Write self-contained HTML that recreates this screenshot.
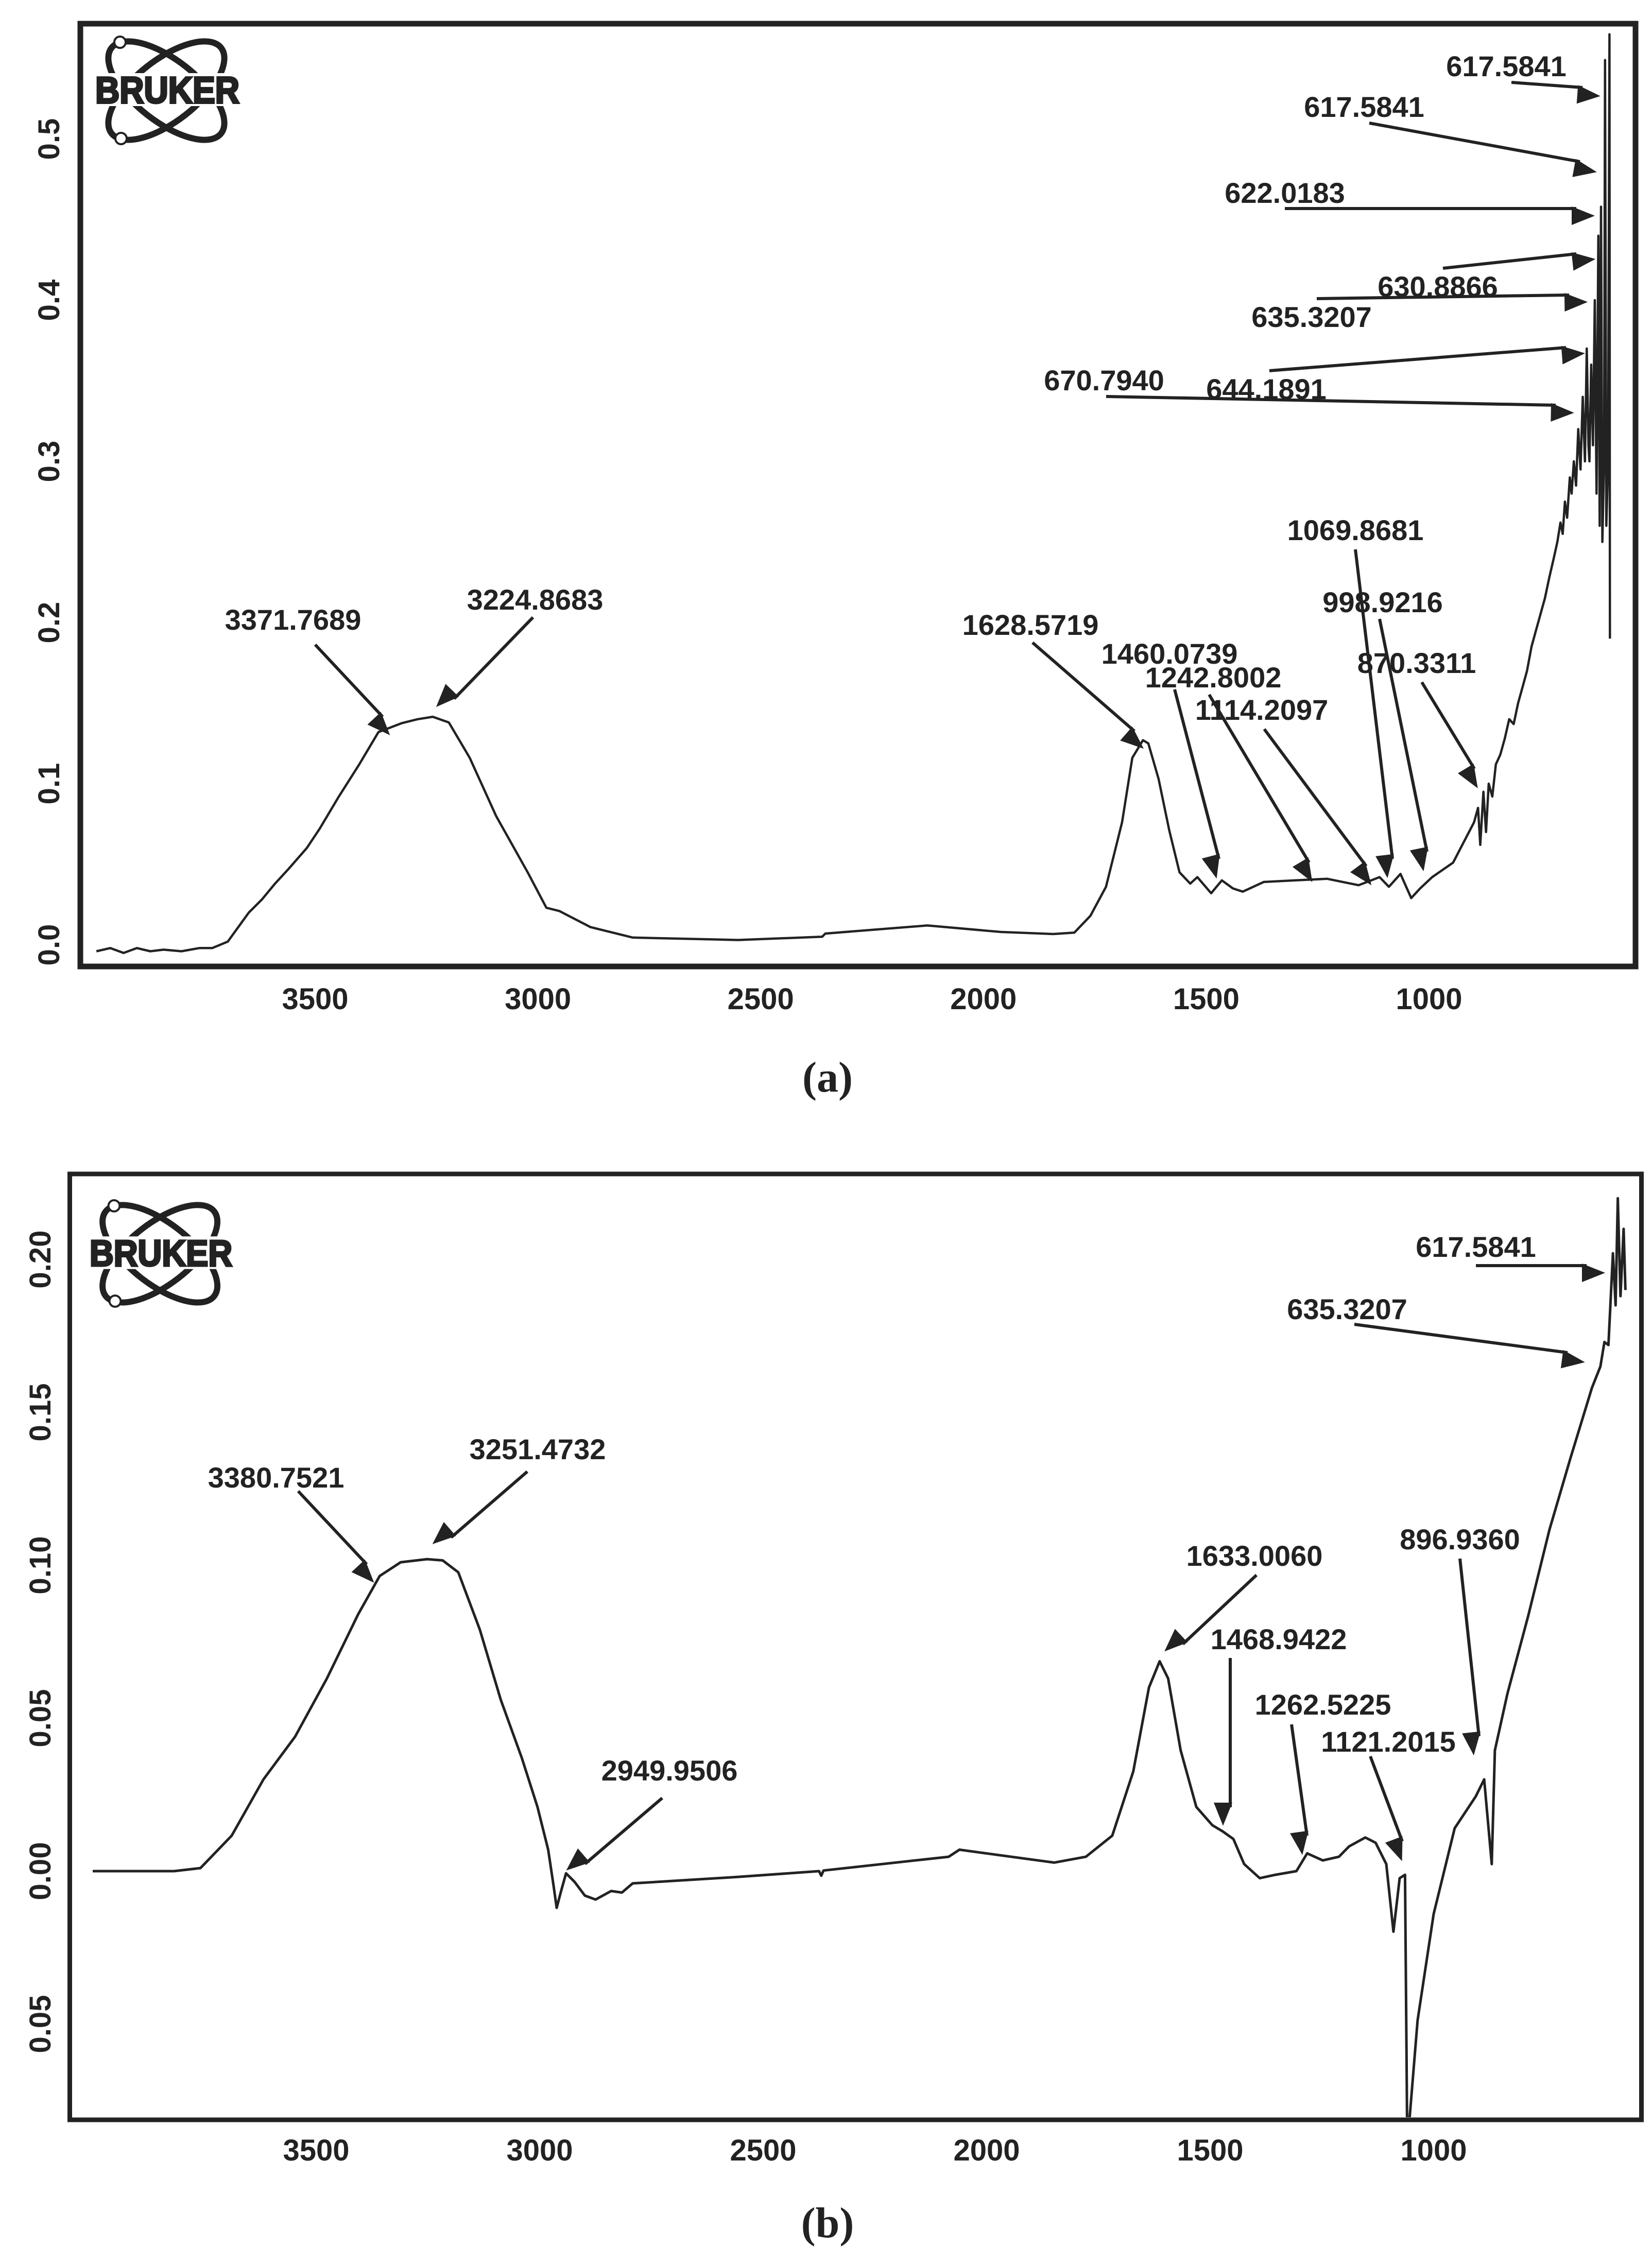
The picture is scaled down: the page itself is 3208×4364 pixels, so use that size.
<!DOCTYPE html>
<html><head><meta charset="utf-8"><style>
html,body{margin:0;padding:0;background:#fff;}
svg{display:block;}
text{font-family:"Liberation Sans",Arial,sans-serif;font-weight:bold;fill:#222;}
.cap{font-family:"Liberation Serif","Times New Roman",serif;font-size:84px;}
</style></head><body>
<svg id="chart" width="3208" height="4364" viewBox="0 0 3208 4364" xmlns="http://www.w3.org/2000/svg">
<defs>
<marker id="ah" markerWidth="10" markerHeight="8" refX="9" refY="4" orient="auto" markerUnits="userSpaceOnUse" viewBox="0 0 10 8" style="overflow:visible">
<path d="M0,0 L10,4 L0,8 Z" fill="#222" transform="scale(4.5)"/>
</marker>
<clipPath id="clipA"><rect x="162" y="52" width="3009" height="1819"/></clipPath>
<clipPath id="clipB"><rect x="140" y="2285" width="3043" height="1827"/></clipPath>
</defs>
<g id="gA"></g>
<g id="gB"></g>
</svg>
<script>
// ---------- data panel (a) ----------
const xTicksA = [3500, 3000, 2500, 2000, 1500, 1000];
const yTicksA = [0.0, 0.1, 0.2, 0.3, 0.4, 0.5];
const yTickLabelsA = ["0.0", "0.1", "0.2", "0.3", "0.4", "0.5"];
const waveA = [3991,3960,3930,3900,3870,3840,3800,3760,3731,3696,3649,3620,3590,3560,3519,3490,3448,3401,3358,3306,3270,3236,3200,3153,3094,3023,2981,2952,2882,2787,2551,2362,2355,2126,1961,1843,1796,1760,1725,1689,1666,1642,1630,1607,1583,1560,1536,1520,1489,1465,1440,1418,1371,1300,1229,1158,1111,1090,1064,1040,1020,993,946,899,890,885,878,872,866,858,850,840,830,820,810,800,790,780,770,760,750,740,730,720,712,705,700,695,690,684,680,675,670,665,660,655,650,646,642,640,636,632,628,624,620,617,614,611,607,605,602,598,595,594];
const absA  = [-0.004,-0.002,-0.005,-0.002,-0.004,-0.003,-0.004,-0.002,-0.002,0.002,0.020,0.028,0.038,0.047,0.060,0.072,0.0915,0.112,0.132,0.1375,0.140,0.1415,0.138,0.116,0.080,0.045,0.023,0.021,0.011,0.0045,0.003,0.005,0.007,0.012,0.008,0.0067,0.0076,0.018,0.036,0.076,0.116,0.127,0.125,0.103,0.071,0.045,0.038,0.042,0.032,0.040,0.035,0.033,0.039,0.040,0.041,0.037,0.042,0.036,0.044,0.029,0.035,0.042,0.051,0.076,0.085,0.062,0.095,0.070,0.100,0.092,0.112,0.118,0.128,0.140,0.137,0.150,0.160,0.170,0.185,0.195,0.205,0.215,0.228,0.240,0.250,0.262,0.255,0.275,0.265,0.290,0.280,0.300,0.285,0.320,0.295,0.340,0.300,0.370,0.310,0.300,0.360,0.310,0.400,0.280,0.440,0.260,0.458,0.250,0.300,0.549,0.260,0.300,0.565,0.190];
const labelsA = ["617.5841","617.5841","622.0183","630.8866","635.3207","644.1891","670.7940","1069.8681","998.9216","870.3311","1114.2097","1242.8002","1460.0739","1628.5719","3371.7689","3224.8683"];

// ---------- data panel (b) ----------
const xTicksB = [3500, 3000, 2500, 2000, 1500, 1000];
const yTicksB = [0.20, 0.15, 0.10, 0.05, 0.00, -0.05];
const yTickLabelsB = ["0.20", "0.15", "0.10", "0.05", "0.00", "0.05"];
const waveB = [4000,3818,3759,3689,3618,3547,3476,3406,3358,3311,3252,3217,3182,3134,3087,3040,3005,2981,2969,2962,2953,2941,2922,2899,2875,2840,2816,2792,2557,2375,2370,2365,2085,2061,1849,1778,1719,1672,1637,1613,1594,1566,1531,1495,1472,1448,1424,1389,1354,1307,1283,1248,1212,1189,1153,1130,1106,1090,1076,1064,1059,1036,1000,953,906,887,870,863,835,788,741,694,646,627,618,609,599,593,588,582,575,571];
const absB  = [0,0,0.001,0.0116,0.030,0.044,0.063,0.084,0.0965,0.101,0.102,0.1016,0.0977,0.079,0.056,0.037,0.021,0.007,-0.0047,-0.012,-0.007,-0.0007,-0.0035,-0.008,-0.0093,-0.0065,-0.007,-0.004,-0.0019,0,-0.0015,0.0002,0.0047,0.007,0.0028,0.0047,0.0116,0.0326,0.060,0.0686,0.063,0.0395,0.021,0.015,0.013,0.0105,0.0023,-0.0023,-0.0012,0,0.0058,0.0035,0.0047,0.0081,0.011,0.0093,0.0023,-0.0198,-0.0023,-0.0012,-0.09,-0.0488,-0.014,0.014,0.0244,0.030,0.0023,0.0395,0.058,0.0837,0.1116,0.135,0.158,0.165,0.173,0.172,0.202,0.185,0.22,0.188,0.21,0.19];
const labelsB = ["617.5841","635.3207","3380.7521","3251.4732","2949.9506","1633.0060","1468.9422","1262.5225","1121.2015","896.9360"];

// ---------- layout (not data) ----------
const NS = "http://www.w3.org/2000/svg";
function xA(w){ return 612 + (3500 - w) * 0.8652; }
function yA(v){ return 1835 - v * 3130; }
function xB(w){ return 614 + (3500 - w) * 0.868; }
function yB(v){ return 3634 - v * 5940; }

function mk(tag, attrs, parent){
  const e = document.createElementNS(NS, tag);
  for (const k in attrs) e.setAttribute(k, attrs[k]);
  parent.appendChild(e);
  return e;
}
function txt(parent, s, x, y, size, anchor){
  const t = mk('text', {x:x, y:y, 'font-size':size, 'text-anchor':anchor||'middle'}, parent);
  t.textContent = s;
  return t;
}

function logo(parent, x0, y0, s){
  const g = mk('g', {transform:`translate(${x0},${y0}) scale(${s})`}, parent);
  
  
  const st = {fill:'none', stroke:'#222', 'stroke-width':12};
  mk('ellipse', Object.assign({cx:140, cy:106, rx:135, ry:60, transform:'rotate(38 140 106)'}, st), g);
  mk('ellipse', Object.assign({cx:140, cy:106, rx:135, ry:60, transform:'rotate(-38 140 106)'}, st), g);
  mk('rect', {x:0, y:72, width:285, height:64, fill:'#fff'}, g);
  mk('circle', {cx:50, cy:12, r:11, fill:'#fff', stroke:'#222', 'stroke-width':4}, g);
  mk('circle', {cx:52, cy:199, r:11, fill:'#fff', stroke:'#222', 'stroke-width':4}, g);
  const t = mk('text', {x:142, y:130, 'font-size':72, 'text-anchor':'middle', textLength:280, lengthAdjust:'spacingAndGlyphs', stroke:'#222', 'stroke-width':4}, g);
  t.textContent = 'BRUKER';
}

function arrow(parent, x1, y1, x2, y2){
  const l = mk('line', {x1:x1, y1:y1, x2:x2, y2:y2, stroke:'#222', 'stroke-width':6, 'marker-end':'url(#ah)'}, parent);
  
  
}

// ---------- panel A ----------
(function(){
  const g = document.getElementById('gA');
  const fr = mk('rect', {x:156, y:46, width:3020, height:1831, fill:'none', stroke:'#222', 'stroke-width':11}, g);
  
  
  logo(g, 183, 70, 1.0);
  xTicksA.forEach(w => {
    const t = txt(g, String(w), xA(w), 1960, 58);
    
    
  });
  yTicksA.forEach((v, i) => {
    const t = mk('text', {x:0, y:0, 'font-size':58, 'text-anchor':'middle', transform:`translate(115,${yA(v)}) rotate(-90)`}, g);
    t.textContent = yTickLabelsA[i];
    
    
  });
  let d = '';
  waveA.forEach((w, i) => { d += (i ? 'L' : 'M') + xA(w).toFixed(1) + ',' + yA(absA[i]).toFixed(1); });
  const p = mk('path', {d:d, fill:'none', stroke:'#222', 'stroke-width':4.5, 'stroke-linejoin':'round', 'clip-path':'url(#clipA)'}, g);
  
  
  const lp = [[2925,148],[2649,227],[2495,394],[2792,576],[2547,635],[2459,775],[2144,758],[2632,1049],[2685,1189],[2751,1307],[2450,1398],[2356,1335],[2271,1289],[2001,1233],[569,1223],[1039,1184]];
  labelsA.forEach((s, i) => {
    const t = txt(g, s, lp[i][0], lp[i][1], 56);
    
    
  });
  const ar = [[2935,160,3073,170],[2659,239,3068,314],[2495,405,3061,405],[2802,521,3061,493],[2557,580,3047,573],[2465,720,3041,675],[2148,770,3021,787],[2632,1067,2704,1668],[2679,1202,2771,1654],[2761,1325,2863,1493],[2455,1416,2653,1682],[2348,1349,2542,1675],[2281,1339,2367,1668],[2005,1248,2203,1420],[612,1252,743,1392],[1035,1199,882,1357]];
  ar.forEach(a => arrow(g, a[0], a[1], a[2], a[3]));
  const c = mk('text', {x:1607, y:2120, class:'cap', 'text-anchor':'middle'}, g);
  c.textContent = '(a)';
  
  
})();

// ---------- panel B ----------
(function(){
  const g = document.getElementById('gB');
  const fr = mk('rect', {x:135.5, y:2280, width:3052, height:1837, fill:'none', stroke:'#222', 'stroke-width':9}, g);
  
  
  logo(g, 172, 2330, 0.99);
  xTicksB.forEach(w => {
    const t = txt(g, String(w), xB(w), 4196, 58);
    
    
  });
  yTicksB.forEach((v, i) => {
    const t = mk('text', {x:0, y:0, 'font-size':58, 'text-anchor':'middle', transform:`translate(98,${yB(v)}) rotate(-90)`}, g);
    t.textContent = yTickLabelsB[i];
    
    
  });
  let d = '';
  waveB.forEach((w, i) => { d += (i ? 'L' : 'M') + xB(w).toFixed(1) + ',' + yB(absB[i]).toFixed(1); });
  const p = mk('path', {d:d, fill:'none', stroke:'#222', 'stroke-width':5, 'stroke-linejoin':'round', 'clip-path':'url(#clipB)'}, g);
  
  
  const lp = [[2866,2441],[2616,2562],[536,2889],[1044,2834],[1300,3458],[2436,3041],[2483,3203],[2569,3330],[2696,3402],[2835,3009]];
  labelsB.forEach((s, i) => {
    const t = txt(g, s, lp[i][0], lp[i][1], 56);
    
    
  });
  const ar = [[2866,2458,3081,2458],[2630,2572,3044,2627],[579,2896,712,3038],[1024,2858,876,2986],[1286,3492,1136,3620],[2440,3059,2297,3193],[2389,3220,2389,3510],[2508,3349,2538,3565],[2661,3411,2723,3576],[2835,3027,2872,3372]];
  ar.forEach(a => arrow(g, a[0], a[1], a[2], a[3]));
  const c = mk('text', {x:1607, y:4345, class:'cap', 'text-anchor':'middle'}, g);
  c.textContent = '(b)';
  
  
})();
</script>
</body></html>
